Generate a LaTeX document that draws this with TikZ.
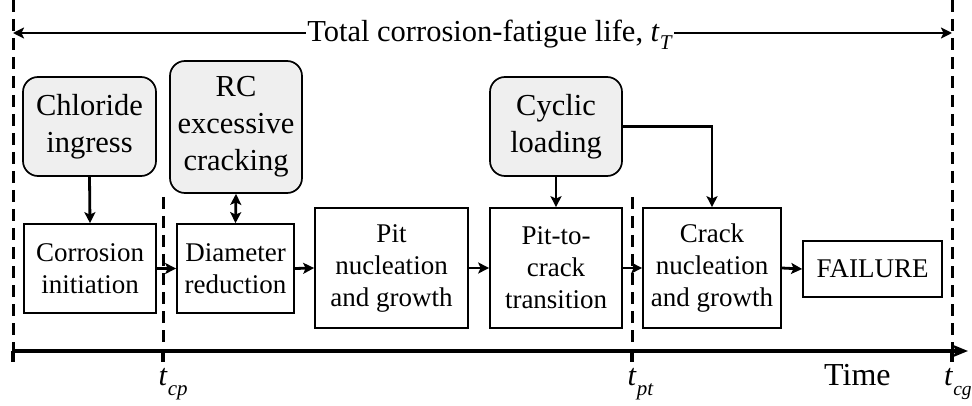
\documentclass[tikz,border=0pt]{standalone}
\usepackage{fontspec}
\setmainfont{Liberation Serif}
\usetikzlibrary{arrows.meta}
\definecolor{cause}{HTML}{EFEFEF}
\newcommand{\bigfont}{\fontsize{30.5}{37}\selectfont}
\newcommand{\smallfont}{\fontsize{27}{32}\selectfont}
\newcommand{\subfont}{\fontsize{21}{21}\selectfont}
\tikzset{
  causebox/.style={draw, line width=1.7pt, fill=cause, rounded corners=15pt, align=center, font=\bigfont, inner sep=0pt},
  stagebox/.style={draw, line width=1.7pt, fill=white, align=center, font=\smallfont, inner sep=0pt},
  flow/.style={line width=2.8pt, -{Stealth[length=11pt,width=11pt,inset=2.5pt]}},
  dflow/.style={line width=2.8pt, {Stealth[length=11pt,width=11pt,inset=2.5pt]}-{Stealth[length=11pt,width=11pt,inset=2.5pt]}},
  guide/.style={line width=3pt, dash pattern=on 12pt off 7pt},
  axisline/.style={line width=3.5pt},
  ticklabel/.style={font=\bigfont, inner sep=0pt, anchor=base west},
}
\begin{document}
\begin{tikzpicture}[x=1pt,y=-1pt]
\useasboundingbox (0,0) rectangle (972,406);
% cause boxes
\node[causebox, minimum width=133pt, minimum height=99pt] (chloride) at (89.5,126.5) {Chloride\\ingress};
\node[causebox, minimum width=132pt, minimum height=132pt] (rc) at (236,127) {RC\\excessive\\cracking};
\node[causebox, minimum width=132pt, minimum height=99pt] (cyclic) at (556,126.5) {Cyclic\\loading};
% guide lines
\coordinate (lt) at (13,0);
\coordinate (lb) at (13,351);
\coordinate (rt) at (952,0);
\coordinate (rb) at (952,351);
\coordinate (cpt) at (163,197);
\coordinate (cpb) at (163,351);
\coordinate (ptt) at (632,197);
\coordinate (ptb) at (632,351);
\draw[guide] (lt) -- (lb);
\draw[guide] (rt) -- (rb);
\draw[guide] (cpt) -- (cpb);
\draw[guide] (ptt) -- (ptb);
% stage boxes
\node[stagebox, minimum width=132pt, minimum height=89pt] (corr) at (90,268.5) {Corrosion\\initiation};
\node[stagebox, minimum width=117pt, minimum height=89pt] (diam) at (235.5,268.5) {Diameter\\reduction};
\node[stagebox, minimum width=153pt, minimum height=120pt] (pit) at (391.5,268) {Pit\\nucleation\\and growth};
\node[stagebox, minimum width=132pt, minimum height=120pt] (ptc) at (556,268) {Pit-to-\\crack\\transition};
\node[stagebox, minimum width=138pt, minimum height=120pt] (crack) at (712,268) {Crack\\nucleation\\and growth};
\node[stagebox, minimum width=139pt, minimum height=56pt] (fail) at (872.5,269) {FAILURE};
% flow arrows
\draw[flow] (corr.east) -- (diam.west);
\draw[flow] (diam.east) -- (pit.west);
\draw[flow] (pit.east) -- (ptc.west);
\draw[flow] (ptc.east) -- (crack.west);
\draw[flow] (crack.east) -- (fail.west);
\draw[flow] (chloride.south) -- (corr.north);
\draw[dflow] (rc.south) -- (diam.north);
\draw[flow] (cyclic.south) -- (ptc.north);
\draw[flow] (cyclic.east) -| (crack.north);
% total life
\node[font=\bigfont, inner sep=1.5pt, anchor=base] (total) at (490,42) {Total corrosion-fatigue life, \textit{t}\raisebox{-8pt}{\subfont\textit{T}}};
\coordinate (tl) at (13,33);
\coordinate (tr) at (952,33);
\draw[flow] (total.west |- tl) -- (tl);
\draw[flow] (total.east |- tr) -- (tr);
% time axis
\coordinate (ax0) at (13,351);
\coordinate (ax1) at (968,351);
\draw[axisline, -{Stealth[length=15pt,width=12pt,inset=3pt]}] (ax0) -- (ax1);
\coordinate (k0) at (13,362);
\coordinate (k1) at (163,362);
\coordinate (k2) at (632,362);
\coordinate (k3) at (952,362);
\draw[axisline] (lb) -- (k0);
\draw[axisline] (cpb) -- (k1);
\draw[axisline] (ptb) -- (k2);
\draw[axisline] (rb) -- (k3);
\node[ticklabel] (tcp) at (158.5,385) {\textit{t}\raisebox{-10pt}{\subfont\textit{cp}}};
\node[ticklabel] (tpt) at (627.5,385) {\textit{t}\raisebox{-10pt}{\subfont\textit{pt}}};
\node[ticklabel] (tcg) at (944,385) {\textit{t}\raisebox{-10pt}{\fontsize{19.5}{20}\selectfont\textit{cg}}};
\node[ticklabel, font=\fontsize{32}{37}\selectfont] (time) at (824,385) {Time};
\end{tikzpicture}
\end{document}
